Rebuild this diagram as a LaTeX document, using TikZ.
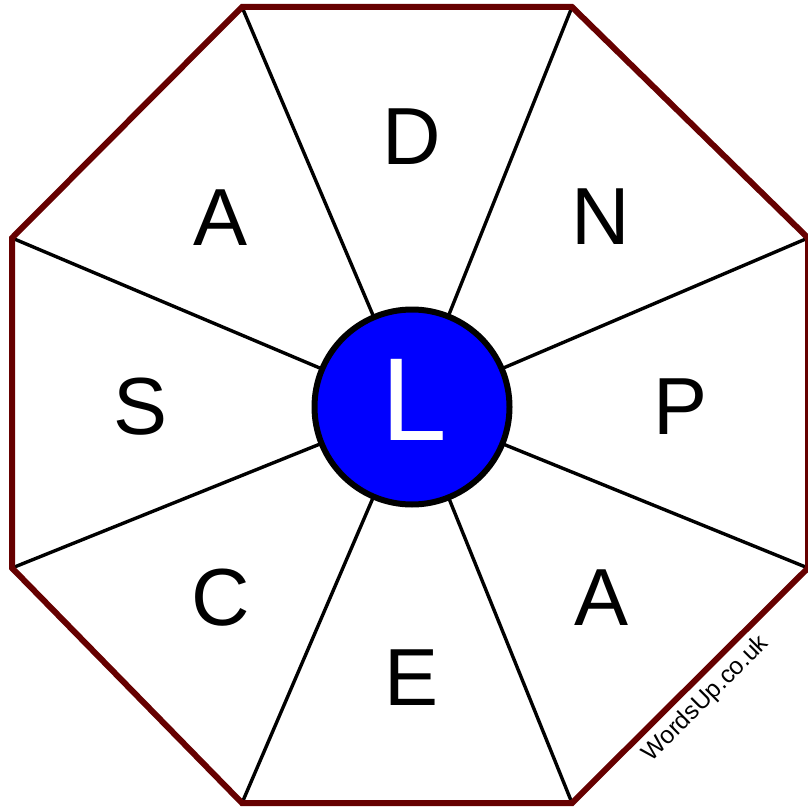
\documentclass[tikz,border=0pt]{standalone}
\usepackage{fontspec}
\setmainfont{Liberation Sans}
\definecolor{octred}{HTML}{660000}
\definecolor{hubblue}{HTML}{0000FF}
\tikzset{
  spoke/.style={draw=black, line width=3.4pt},
  octo/.style={draw=octred, line width=6pt, line join=miter},
  hub/.style={circle, draw=black, line width=6pt, fill=hubblue, minimum size=195pt, inner sep=0pt},
  letter/.style={inner sep=0pt, font=\fontsize{81}{81}\selectfont},
  hubletter/.style={inner sep=0pt, text=white, font=\fontsize{118}{118}\selectfont}
}
\begin{document}
\begin{tikzpicture}[x=1pt,y=-1pt]
\useasboundingbox (0,0) rectangle (807,810);
\coordinate (v1) at (242,7);
\coordinate (v2) at (572,7);
\coordinate (v3) at (808,238);
\coordinate (v4) at (808,568);
\coordinate (v5) at (572,803);
\coordinate (v6) at (242,803);
\coordinate (v7) at (12,568);
\coordinate (v8) at (12,238);
\coordinate (ctr) at (412,407);
\foreach \v in {v1,v2,v3,v4,v5,v6,v7,v8} \draw[spoke] (ctr) -- (\v);
\draw[octo] (v1) -- (v2) -- (v3) -- (v4) -- (v5) -- (v6) -- (v7) -- (v8) -- cycle;
\node[hub] (c) at (ctr) {};
\node[hubletter] (cl) at (414,400) {L};
\node[letter] (l1) at (412,137) {D};
\node[letter] (l2) at (601,217) {N};
\node[letter] (l3) at (681,407) {P};
\node[letter] (l4) at (602,598) {A};
\node[letter] (l5) at (412,678) {E};
\node[letter] (l6) at (221,598) {C};
\node[letter] (l7) at (141,407) {S};
\node[letter] (l8) at (221,218) {A};
\node[inner sep=0pt, rotate=45, font=\fontsize{24.5}{24.5}\selectfont] (wm) at (706,699) {WordsUp.co.uk};
\end{tikzpicture}
\end{document}
